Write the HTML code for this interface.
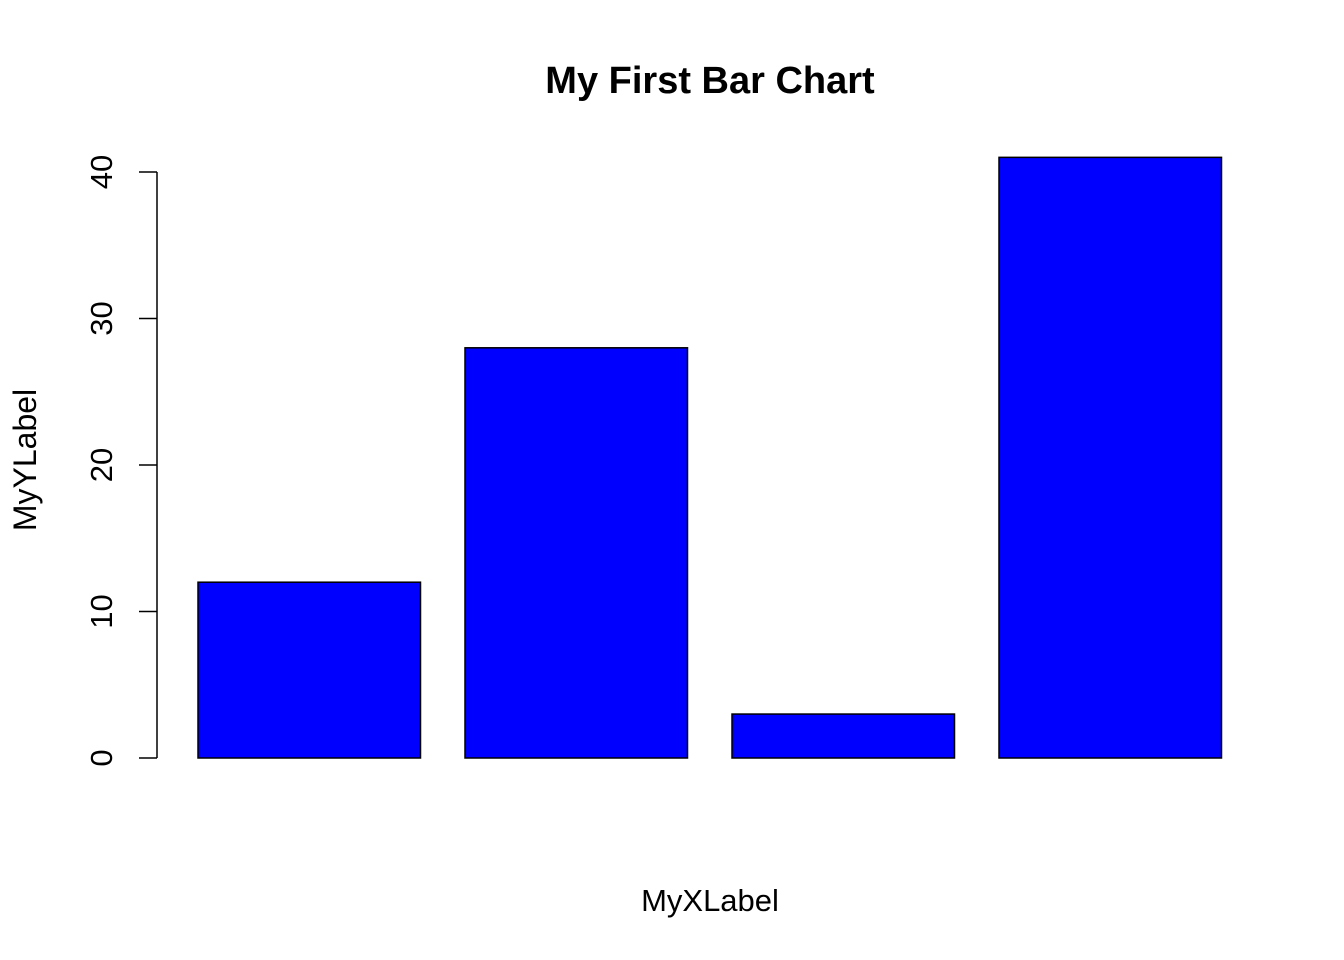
<!DOCTYPE html>
<html><head><meta charset="utf-8">
<style>
html,body{margin:0;padding:0;background:#fff;}
svg{display:block;font-family:"Liberation Sans",Arial,sans-serif;}
</style></head>
<body>
<svg id="chart" width="1344" height="960" viewBox="0 0 1344 960">
  <text x="710" y="93" text-anchor="middle" font-size="38" font-weight="bold" fill="#000">My First Bar Chart</text>
  <text x="710" y="911" text-anchor="middle" font-size="31" fill="#000">MyXLabel</text>
  <text transform="translate(36,460) rotate(-90)" text-anchor="middle" font-size="32" fill="#000">MyYLabel</text>
  <g id="bars"></g>
  <g id="yaxis"></g>
</svg>
<script>
const categories = ["A","B","C","D"];
const values = [12, 28, 3, 41];
const yTicks = [0, 10, 20, 30, 40];

const NS = "http://www.w3.org/2000/svg";
function yScale(v){ return 758 - v * 14.65; }
function xScale(u){ return 198 + (u - 0.2) * 222.5; }

const bars = document.getElementById("bars");
values.forEach((v, i) => {
  const r = document.createElementNS(NS, "rect");
  const x0 = xScale(0.2 + i * 1.2), x1 = xScale(1.2 + i * 1.2);
  r.setAttribute("x", x0);
  r.setAttribute("y", yScale(v));
  r.setAttribute("width", x1 - x0);
  r.setAttribute("height", yScale(0) - yScale(v));
  r.setAttribute("fill", "#0000ff");
  r.setAttribute("stroke", "#000");
  r.setAttribute("stroke-width", "1.5");
  
  
  bars.appendChild(r);
});

const ax = document.getElementById("yaxis");
const line = document.createElementNS(NS, "line");
line.setAttribute("x1", 157); line.setAttribute("x2", 157);
line.setAttribute("y1", yScale(yTicks[0])); line.setAttribute("y2", yScale(yTicks[yTicks.length-1]));
line.setAttribute("stroke", "#000"); line.setAttribute("stroke-width", "1.5");


ax.appendChild(line);
yTicks.forEach(t => {
  const y = yScale(t);
  const tk = document.createElementNS(NS, "line");
  tk.setAttribute("x1", 139); tk.setAttribute("x2", 157);
  tk.setAttribute("y1", y); tk.setAttribute("y2", y);
  tk.setAttribute("stroke", "#000"); tk.setAttribute("stroke-width", "1.5");
  
  
  ax.appendChild(tk);
  const tx = document.createElementNS(NS, "text");
  tx.setAttribute("transform", "translate(112," + y + ") rotate(-90)");
  tx.setAttribute("text-anchor", "middle");
  tx.setAttribute("font-size", "31");
  tx.textContent = t;
  
  
  ax.appendChild(tx);
});
</script>
</body></html>
